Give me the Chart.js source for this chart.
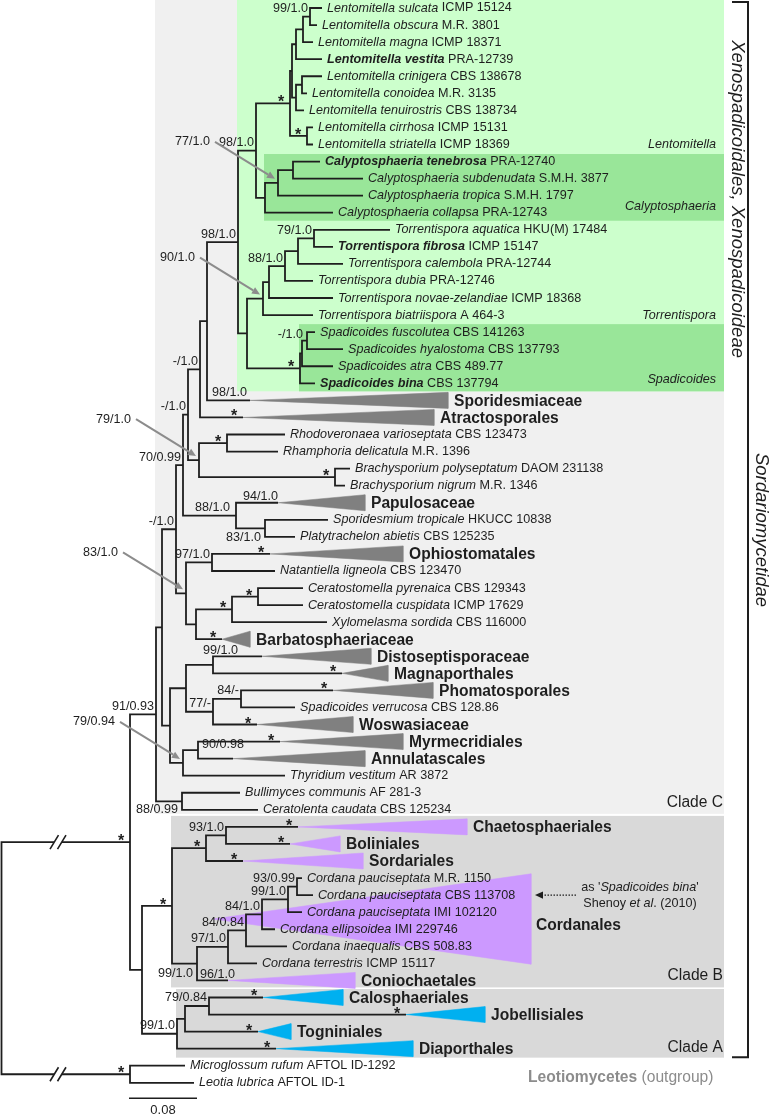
<!DOCTYPE html>
<html>
<head>
<meta charset="utf-8">
<script src="https://cdn.jsdelivr.net/npm/chart.js@4.4.1/dist/chart.umd.min.js"></script>
<style>
  html, body { margin: 0; padding: 0; background: #fff; }
  canvas { display: block; }
</style>
</head>
<body>
<canvas id="tree" width="773" height="1118"></canvas>
<script>
// ---- tips, top to bottom (one row each) ----
const tipTaxa = [
  'Lentomitella sulcata', 'Lentomitella obscura', 'Lentomitella magna', 'Lentomitella vestita',
  'Lentomitella crinigera', 'Lentomitella conoidea', 'Lentomitella tenuirostris', 'Lentomitella cirrhosa',
  'Lentomitella striatella',
  'Calyptosphaeria tenebrosa', 'Calyptosphaeria subdenudata', 'Calyptosphaeria tropica', 'Calyptosphaeria collapsa',
  'Torrentispora aquatica', 'Torrentispora fibrosa', 'Torrentispora calembola', 'Torrentispora dubia',
  'Torrentispora novae-zelandiae', 'Torrentispora biatriispora',
  'Spadicoides fuscolutea', 'Spadicoides hyalostoma', 'Spadicoides atra', 'Spadicoides bina',
  'Sporidesmiaceae', 'Atractosporales', 'Rhodoveronaea varioseptata', 'Rhamphoria delicatula',
  'Brachysporium polyseptatum', 'Brachysporium nigrum',
  'Papulosaceae', 'Sporidesmium tropicale', 'Platytrachelon abietis', 'Ophiostomatales', 'Natantiella ligneola',
  'Ceratostomella pyrenaica', 'Ceratostomella cuspidata', 'Xylomelasma sordida', 'Barbatosphaeriaceae',
  'Distoseptisporaceae', 'Magnaporthales', 'Phomatosporales', 'Spadicoides verrucosa', 'Woswasiaceae',
  'Myrmecridiales', 'Annulatascales',
  'Thyridium vestitum', 'Bullimyces communis', 'Ceratolenta caudata',
  'Chaetosphaeriales', 'Boliniales', 'Sordariales',
  'Cordana pauciseptata', 'Cordana pauciseptata', 'Cordana pauciseptata', 'Cordana ellipsoidea',
  'Cordana inaequalis', 'Cordana terrestris',
  'Coniochaetales', 'Calosphaeriales', 'Jobellisiales', 'Togniniales', 'Diaporthales',
  'Microglossum rufum', 'Leotia lubrica'
];
const tipVouchers = [
  'ICMP 15124', 'M.R. 3801', 'ICMP 18371', 'PRA-12739', 'CBS 138678', 'M.R. 3135', 'CBS 138734', 'ICMP 15131', 'ICMP 18369',
  'PRA-12740', 'S.M.H. 3877', 'S.M.H. 1797', 'PRA-12743',
  'HKU(M) 17484', 'ICMP 15147', 'PRA-12744', 'PRA-12746', 'ICMP 18368', 'A 464-3',
  'CBS 141263', 'CBS 137793', 'CBS 489.77', 'CBS 137794',
  '', '', 'CBS 123473', 'M.R. 1396', 'DAOM 231138', 'M.R. 1346',
  '', 'HKUCC 10838', 'CBS 125235', '', 'CBS 123470',
  'CBS 129343', 'ICMP 17629', 'CBS 116000', '',
  '', '', '', 'CBS 128.86', '', '', '',
  'AR 3872', 'AF 281-3', 'CBS 125234',
  '', '', '',
  'M.R. 1150', 'CBS 113708', 'IMI 102120', 'IMI 229746', 'CBS 508.83', 'ICMP 15117',
  '', '', '', '', '',
  'AFTOL ID-1292', 'AFTOL ID-1'
];
const boldTips = [3, 9, 14, 22];
// branch end of each tip (apex for collapsed clades), tree units (scale bar 0.08 = 68)
const tipDepth = [
  322, 317, 313, 322, 322, 307, 304, 313, 313,
  320, 363, 363, 333,
  390, 333, 343, 313, 333, 313,
  315, 343, 333, 315,
  250, 243, 285, 278, 350, 345,
  278, 328, 295, 270, 275,
  303, 303, 327, 222,
  262, 342, 333, 295, 257, 280, 233,
  285, 240, 258,
  298, 290, 243,
  302, 313, 302, 275, 287, 257,
  228, 263, 406, 258, 276,
  185, 194
];

// ---- collapsed clades ----
const collapsedRows = [23, 24, 29, 32, 37, 38, 39, 40, 42, 43, 44, 48, 49, 50, 57, 58, 59, 60, 61];
const collapsedEnd = [448, 434, 365, 403, 250, 371, 388, 433, 353, 403, 365, 467, 340, 363, 355, 343, 485, 291, 413];
const collapsedGroup = ['g', 'g', 'g', 'g', 'g', 'g', 'g', 'g', 'g', 'g', 'g', 'p', 'p', 'p', 'p', 'b', 'b', 'b', 'b'];
// Cordanales wedge: apex depth, end depth, row span
const cordanalesDepth = [213, 531];
const cordanalesRows = [50.75, 56.05];

// ---- internal nodes: id, depth, [upper child, lower child] ----
const nodeIds = [
  'L1', 'L2', 'L3', 'L4', 'L5', 'L6', 'Cir', 'L7', 'C1', 'C2', 'C3', 'LC',
  'T1', 'T2', 'T3', 'T4', 'T5', 'Sp1', 'Sp2', 'Sp3', 'TS', 'X', 'Y', 'Z',
  'Rh', 'Br', 'W', 'V', 'P1', 'Pap', 'U', 'Oph', 'Cer2', 'Cer', 'Bar', 'OB', 'T0',
  'D1', 'Ph', 'D2', 'D3', 'M1', 'M2', 'D4', 'N1', 'Bu', 'CC',
  'Ch1', 'Ch2', 'Co1', 'Co2', 'Co3', 'Co4', 'Co5', 'Co6', 'CB',
  'A1', 'A2', 'CA', 'AB', 'IN', 'OUT', 'ROOT'
];
const nodeDepth = [
  310, 303, 296, 302, 296, 292, 307, 290, 293, 278, 265, 256,
  314, 298, 285, 269, 263, 307, 302, 300, 247, 238, 207, 200,
  227, 335, 199, 188, 265, 236, 183, 212, 258, 232, 196, 186, 176,
  213, 241, 213, 186, 198, 183, 170, 162, 182, 156,
  226, 206, 297, 288, 262, 246, 228, 197, 172,
  209, 185, 177, 142, 130, 130, 1.5
];
const nodeChildren = [
  [0, 1], ['L1', 2], ['L2', 3], [4, 5], ['L4', 6], ['L3', 'L5'], [7, 8], ['L6', 'Cir'],
  [9, 10], ['C1', 11], ['C2', 12], ['L7', 'C3'],
  [13, 14], ['T1', 15], ['T2', 16], ['T3', 17], ['T4', 18],
  [19, 20], ['Sp1', 21], ['Sp2', 22], ['T5', 'Sp3'], ['LC', 'TS'], ['X', 23], ['Y', 24],
  [25, 26], [27, 28], ['Rh', 'Br'], ['Z', 'W'], [30, 31], [29, 'P1'], ['V', 'Pap'],
  [32, 33], [34, 35], ['Cer2', 36], ['Cer', 37], ['Oph', 'Bar'], ['U', 'OB'],
  [38, 39], [40, 41], ['Ph', 42], ['D1', 'D2'], [43, 44], ['M1', 45], ['D3', 'M2'], ['T0', 'D4'],
  [46, 47], ['N1', 'Bu'],
  [48, 49], ['Ch1', 50], [51, 52], ['Co1', 53], ['Co2', 54], ['Co3', 55], ['Co4', 56], ['Co5', 57], ['Ch2', 'Co6'],
  [58, 59], ['A1', 60], ['A2', 61], ['CB', 'CA'], ['CC', 'AB'], [62, 63], ['IN', 'OUT']
];

// ---- support values (ML bootstrap / posterior), '*' = full support ----
const supportAt = [
  'L1', 'L7', 'Cir', 'LC', 'X', 'T1', 'T3', 'Sp1', 'Sp3', 23, 24, 'Z', 'Rh', 'Br', 'V', 'Pap', 29, 'P1',
  'U', 'T0', 'Oph', 32, 'Cer2', 'Cer', 37, 'D1', 39, 40, 'Ph', 'D2', 42, 43, 'M1', 'CC', 'Bu',
  48, 49, 50, 'Ch1', 'Ch2', 'Co1', 'Co2', 'Co3', 'Co4', 'Co5', 'Co6', 57, 'CB', 'A1', 'CA',
  58, 59, 60, 61, 'IN', 'OUT'
];
const supportText = [
  '99/1.0', '*', '*', '98/1.0', '98/1.0', '79/1.0', '88/1.0', '-/1.0', '*', '98/1.0', '*', '-/1.0', '*', '*', '-/1.0', '88/1.0', '94/1.0', '83/1.0',
  '70/0.99', '-/1.0', '97/1.0', '*', '*', '*', '*', '99/1.0', '*', '*', '84/-', '77/-', '*', '*', '90/0.98', '91/0.93', '88/0.99',
  '*', '*', '*', '93/1.0', '*', '93/0.99', '99/1.0', '84/1.0', '84/0.84', '97/1.0', '99/1.0', '96/1.0', '*', '79/0.84', '99/1.0',
  '*', '*', '*', '*', '*', '*'
];
// supports drawn away from their node with a grey arrow
const arrowSupportAt = ['C2', 'T5', 'W', 'OB', 'M2'];
const arrowSupportText = ['77/1.0', '90/1.0', '79/1.0', '83/1.0', '79/0.94'];

// ---- layout helpers (px) ----
const ROW_PX = 17.06, FIRST_ROW_PX = 8, H = 1118, W = 773;
const FONT = "'Liberation Sans', Arial, Helvetica, sans-serif";
const INK = '#1e1e1e';
const colors = { g: '#808080', p: '#cc99ff', b: '#00b0f0' };
const PANEL_RIGHT = 724;
const panels = [
  { first: 0, last: 47, node: 'CC', color: '#f0f0f0', padTop: 20, padBottom: 4 },
  { first: 0, last: 22, node: 'X', color: '#ccffcc', padTop: 20, padBottom: 8 },
  { first: 9, last: 12, node: 'C3', color: '#99e699', padTop: 7.5, padBottom: 8 },
  { first: 19, last: 22, node: 'Sp3', color: '#99e699', padTop: 8, padBottom: 8 },
  { first: 48, last: 57, node: 'CB', color: '#d9d9d9', padTop: 11, padBottom: 7 },
  { first: 58, last: 61, node: 'CA', color: '#d9d9d9', padTop: 8.5, padBottom: 9 }
];
// label nudges [dx, dy, align] relative to the default (right of node, above branch)
const nudge = {
  Pap: [-4, 0], P1: [-2, 17], D1: [-10, -6.5, 'left'], M1: [4, 2, 'left'], Bu: [-2, 16],
  Co6: [-2, 18], 57: [9, 2], 23: [-1, 0], 29: [2, 2], Sp1: [-2, 2]
};

// ---- tree geometry ----
const nodeIndex = Object.fromEntries(nodeIds.map((id, i) => [id, i]));
const xOf = id => typeof id === 'number' ? tipDepth[id] : nodeDepth[nodeIndex[id]];
const yCache = {};
function yOf(id) {
  if (typeof id === 'number') return id;
  if (yCache[id] === undefined) {
    const [a, b] = nodeChildren[nodeIndex[id]];
    yCache[id] = (yOf(a) + yOf(b)) / 2;
  }
  return yCache[id];
}

const branchPts = [];
nodeIds.forEach((id, i) => {
  const [a, b] = nodeChildren[i];
  const nx = nodeDepth[i];
  branchPts.push(
    { x: xOf(a), y: yOf(a) }, { x: nx, y: yOf(a) },
    { x: nx, y: yOf(b) }, { x: xOf(b), y: yOf(b) },
    { x: null, y: null }
  );
});

const HALF = 0.47; // wedge half height in rows
const wedges = collapsedRows.map((r, i) => ({
  type: 'line',
  data: [
    { x: tipDepth[r], y: r }, { x: collapsedEnd[i], y: r - HALF },
    { x: collapsedEnd[i], y: r + HALF }, { x: tipDepth[r], y: r }
  ],
  backgroundColor: colors[collapsedGroup[i]],
  borderColor: colors[collapsedGroup[i]],
  borderWidth: 0.5,
  fill: 'shape',
  pointRadius: 0,
  order: 2
}));
wedges.push({
  type: 'line',
  data: [
    { x: cordanalesDepth[0], y: (cordanalesRows[0] + cordanalesRows[1]) / 2 },
    { x: cordanalesDepth[1], y: cordanalesRows[0] },
    { x: cordanalesDepth[1], y: cordanalesRows[1] },
    { x: cordanalesDepth[0], y: (cordanalesRows[0] + cordanalesRows[1]) / 2 }
  ],
  backgroundColor: colors.p,
  borderColor: colors.p,
  borderWidth: 0.5,
  fill: 'shape',
  pointRadius: 0,
  order: 3
});

// ---- drawing of panels and texts ----
function arrow(ctx, x1, y1, x2, y2, color, dashed) {
  const ang = Math.atan2(y2 - y1, x2 - x1);
  const hl = 8, hw = 3.6;
  const bx = x2 - hl * Math.cos(ang), by = y2 - hl * Math.sin(ang);
  ctx.save();
  ctx.strokeStyle = color;
  ctx.fillStyle = color;
  ctx.lineWidth = dashed ? 1.3 : 2;
  if (dashed) ctx.setLineDash([1.5, 1.5]);
  ctx.beginPath();
  ctx.moveTo(x1, y1);
  ctx.lineTo(bx, by);
  ctx.stroke();
  ctx.setLineDash([]);
  ctx.beginPath();
  ctx.moveTo(x2, y2);
  ctx.lineTo(bx + hw * Math.sin(ang), by - hw * Math.cos(ang));
  ctx.lineTo(bx - hw * Math.sin(ang), by + hw * Math.cos(ang));
  ctx.closePath();
  ctx.fill();
  ctx.restore();
}

function pieces(ctx, parts, x, y, align) {
  // parts: [text, font]
  let total = 0;
  parts.forEach(p => { ctx.font = p[1]; total += ctx.measureText(p[0]).width; });
  let cx = align === 'center' ? x - total / 2 : align === 'right' ? x - total : x;
  ctx.textAlign = 'left';
  parts.forEach(p => { ctx.font = p[1]; ctx.fillText(p[0], cx, y); cx += ctx.measureText(p[0]).width; });
}

const deco = {
  id: 'deco',
  beforeDatasetsDraw(chart) {
    const { ctx, scales: { x, y } } = chart;
    ctx.save();
    panels.forEach(p => {
      const left = x.getPixelForValue(xOf(p.node)) - 1;
      const top = y.getPixelForValue(p.first) - p.padTop;
      const bottom = y.getPixelForValue(p.last) + p.padBottom;
      ctx.fillStyle = p.color;
      ctx.fillRect(left, top, x.getPixelForValue(PANEL_RIGHT) - left, bottom - top);
    });
    ctx.restore();
  },
  afterDatasetsDraw(chart) {
    const { ctx, scales: { x, y } } = chart;
    const px = v => x.getPixelForValue(v), py = v => y.getPixelForValue(v);
    ctx.save();
    ctx.fillStyle = INK;
    ctx.textBaseline = 'middle';

    // tip labels
    tipTaxa.forEach((name, r) => {
      const ci = collapsedRows.indexOf(r);
      if (ci >= 0) {
        ctx.font = 'bold 15.6px ' + FONT;
        ctx.textAlign = 'left';
        ctx.fillText(name, px(collapsedEnd[ci]) + 6, py(r) + 1);
        return;
      }
      const bold = boldTips.includes(r);
      pieces(ctx, [
        [name, (bold ? 'italic bold ' : 'italic ') + '12.6px ' + FONT],
        [' ' + tipVouchers[r], '12.6px ' + FONT]
      ], px(tipDepth[r]) + 5, py(r), 'left');
    });
    ctx.font = 'bold 15.6px ' + FONT;
    ctx.textAlign = 'left';
    ctx.fillText('Cordanales', px(cordanalesDepth[1]) + 5, py(53.8));

    // supports
    supportAt.forEach((id, i) => {
      const t = supportText[i];
      const nx = px(xOf(id)), ny = py(yOf(id));
      const n = nudge[id] || [0, 0];
      if (t === '*') {
        ctx.font = 'bold 16px ' + FONT;
        ctx.textAlign = 'center';
        ctx.textBaseline = 'alphabetic';
        ctx.fillText('*', nx - 9 + n[0], ny + 4 + n[1]);
        ctx.textBaseline = 'middle';
        return;
      }
      ctx.font = '12.6px ' + FONT;
      if (n[2] === 'left') {
        ctx.textAlign = 'left';
        ctx.fillText(t, nx + n[0], ny - 8 + n[1]);
      } else {
        ctx.textAlign = 'right';
        ctx.fillText(t, nx - 2 + n[0], ny - 8 + n[1]);
      }
    });
    arrowSupportAt.forEach((id, i) => {
      const nx = px(xOf(id)), ny = py(yOf(id));
      ctx.font = '12.6px ' + FONT;
      ctx.textAlign = 'right';
      ctx.fillStyle = INK;
      ctx.fillText(arrowSupportText[i], nx - 68, ny - 41);
      arrow(ctx, nx - 63, ny - 41, nx - 3, ny - 4, '#8c8c8c', false);
    });

    // clade names inside panels
    ctx.fillStyle = INK;
    ctx.textAlign = 'right';
    ctx.font = 'italic 12.6px ' + FONT;
    [['Lentomitella', 8], ['Calyptosphaeria', 11.66], ['Torrentispora', 18], ['Spadicoides', 21.8]]
      .forEach(([t, r]) => ctx.fillText(t, px(716), py(r)));
    ctx.font = '15.6px ' + FONT;
    [['Clade C', 46.6], ['Clade B', 56.74], ['Clade A', 60.96]]
      .forEach(([t, r]) => ctx.fillText(t, px(723), py(r)));

    // outgroup label
    ctx.fillStyle = '#8c8c8c';
    pieces(ctx, [['Leotiomycetes', 'bold 15.6px ' + FONT], [' (outgroup)', '15.6px ' + FONT]], px(528), py(62.72), 'left');

    // note on Cordana pauciseptata CBS 113708
    ctx.fillStyle = INK;
    arrow(ctx, px(576), py(52), px(535), py(52), INK, true);
    pieces(ctx, [["as '", '12.6px ' + FONT], ['Spadicoides bina', 'italic 12.6px ' + FONT], ["'", '12.6px ' + FONT]],
      px(640), py(52) - 8, 'center');
    pieces(ctx, [['Shenoy ', '12.6px ' + FONT], ['et al', 'italic 12.6px ' + FONT], ['. (2010)', '12.6px ' + FONT]],
      px(640), py(52) + 8, 'center');

    // bracket and rotated group names
    const bx = px(748), bt = py(0) - 6, bb = py(61) + 8.5;
    ctx.strokeStyle = INK;
    ctx.lineWidth = 2;
    ctx.beginPath();
    ctx.moveTo(px(732), bt); ctx.lineTo(bx, bt); ctx.lineTo(bx, bb); ctx.lineTo(px(732), bb);
    ctx.stroke();
    ctx.font = 'italic 18.5px ' + FONT;
    ctx.textAlign = 'center';
    [['Xenospadicoidales, Xenospadicoideae', 737, 11.2], ['Sordariomycetidae', 761, 30.6]].forEach(([t, cx, r]) => {
      ctx.save();
      ctx.translate(px(cx), py(r));
      ctx.rotate(Math.PI / 2);
      ctx.fillText(t, 0, 0);
      ctx.restore();
    });

    // long-branch breaks
    ['IN', 'OUT'].forEach(id => {
      const yy = py(yOf(id));
      ctx.fillStyle = '#fff';
      ctx.fillRect(px(54), yy - 2, 8, 4);
      ctx.strokeStyle = INK;
      ctx.lineWidth = 1.6;
      ctx.beginPath();
      ctx.moveTo(px(50), yy + 7); ctx.lineTo(px(58.5), yy - 7);
      ctx.moveTo(px(57.5), yy + 7); ctx.lineTo(px(66), yy - 7);
      ctx.stroke();
    });

    // scale bar
    ctx.strokeStyle = INK;
    ctx.lineWidth = 1.5;
    ctx.beginPath();
    ctx.moveTo(px(129), py(63.9)); ctx.lineTo(px(129 + 68), py(63.9));
    ctx.stroke();
    ctx.fillStyle = INK;
    ctx.font = '13px ' + FONT;
    ctx.textAlign = 'center';
    ctx.fillText('0.08', px(129 + 34), py(64.6));
    ctx.restore();
  }
};

new Chart(document.getElementById('tree'), {
  type: 'line',
  data: {
    datasets: [{
      type: 'line',
      data: branchPts,
      borderColor: INK,
      borderWidth: 1.8,
      borderJoinStyle: 'miter',
      borderCapStyle: 'butt',
      pointRadius: 0,
      fill: false,
      spanGaps: false,
      order: 0
    }, ...wedges]
  },
  options: {
    responsive: false,
    animation: false,
    events: [],
    layout: { padding: 0 },
    plugins: { legend: { display: false }, tooltip: { enabled: false } },
    scales: {
      x: { type: 'linear', min: 0, max: W, display: false },
      y: {
        type: 'linear', reverse: true, display: false,
        min: -FIRST_ROW_PX / ROW_PX, max: (H - FIRST_ROW_PX) / ROW_PX
      }
    }
  },
  plugins: [deco]
});
</script>
</body>
</html>
